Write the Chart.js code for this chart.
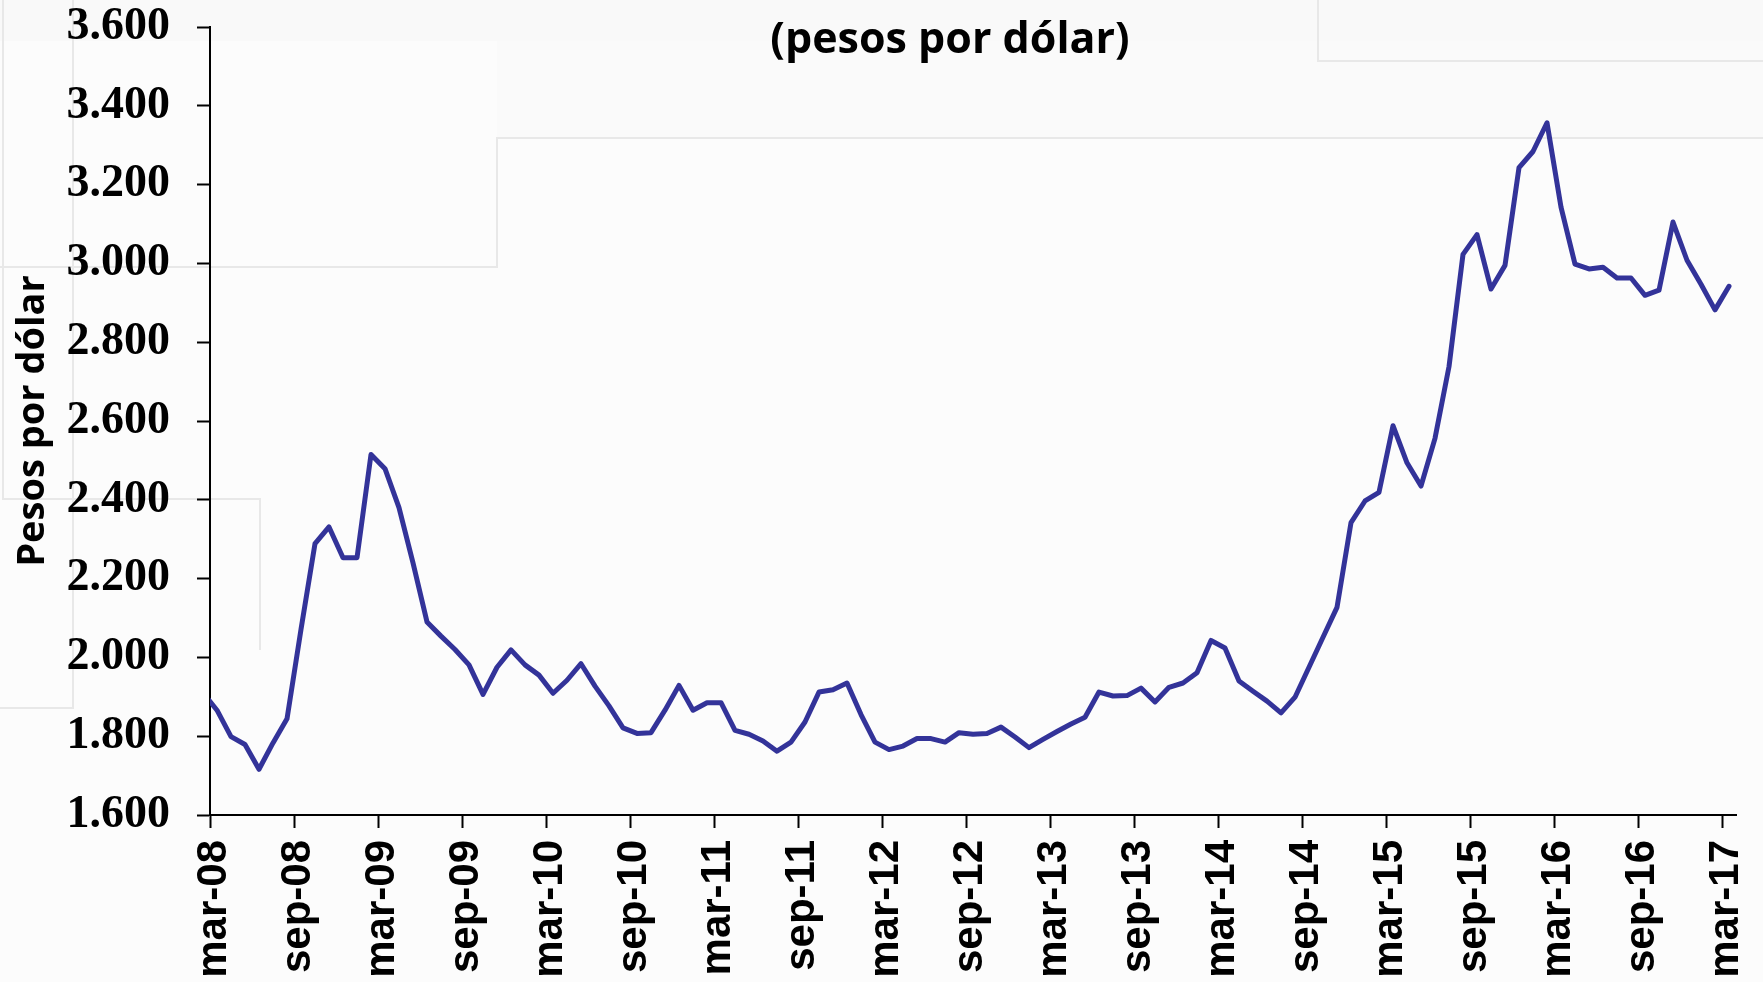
<!DOCTYPE html>
<html lang="es">
<head>
<meta charset="UTF-8">
<title>Tasa de cambio (pesos por dólar)</title>
<script src="https://cdn.jsdelivr.net/npm/chart.js"></script>
<style>
  html, body { margin: 0; padding: 0; background: #fcfcfc; }
  #wrap { width: 1763px; height: 982px; }
</style>
</head>
<body>
<div id="wrap"><canvas id="trm" width="1763" height="982"></canvas></div>
<script>
// serie mensual feb-08 .. mar-17
const abrev = ['ene', 'feb', 'mar', 'abr', 'may', 'jun', 'jul', 'ago', 'sep', 'oct', 'nov', 'dic'];
const meses = [];
for (let a = 8; a <= 17; a++) {
  for (let m = 0; m < 12; m++) {
    if ((a === 8 && m < 1) || (a === 17 && m > 2)) continue;
    meses.push(abrev[m] + '-' + String(a).padStart(2, '0'));
  }
}

const valores = [
  1910, 1866, 1799, 1779, 1716, 1783, 1844, 2071, 2289, 2331, 2253, 2253,
  2515, 2479, 2380, 2240, 2090, 2054, 2020, 1981, 1906, 1975, 2019, 1981,
  1955, 1909, 1942, 1984, 1927, 1877, 1821, 1807, 1809, 1866, 1929, 1866,
  1885, 1885, 1815, 1805, 1788, 1762, 1785, 1836, 1912, 1918, 1935, 1855,
  1785, 1766, 1775, 1794, 1794, 1785, 1809, 1805, 1807, 1823, 1798, 1771,
  1792, 1812, 1831, 1848, 1912, 1902, 1903, 1922, 1887, 1924, 1935, 1961,
  2043, 2024, 1940, 1914, 1889, 1859, 1899, 1975, 2051, 2127, 2342, 2397,
  2419, 2588, 2494, 2435, 2556, 2738, 3023, 3073, 2935, 2995, 3243, 3284,
  3357, 3143, 2998, 2986, 2990, 2963, 2963, 2919, 2932, 3105, 3008, 2947,
  2882, 2942
];

const etiquetasX = [
  'mar-08', 'sep-08', 'mar-09', 'sep-09', 'mar-10', 'sep-10', 'mar-11',
  'sep-11', 'mar-12', 'sep-12', 'mar-13', 'sep-13', 'mar-14', 'sep-14',
  'mar-15', 'sep-15', 'mar-16', 'sep-16', 'mar-17'
];
const marcasY = [1600, 1800, 2000, 2200, 2400, 2600, 2800, 3000, 3200, 3400, 3600];

// eje x en meses contados desde el inicio de mar-08; cada dato va a mitad de su mes
const inicioMes = (lbl) => meses.indexOf(lbl) - 1;
const puntos = meses.map((m, i) => ({ x: i - 0.5, y: valores[i] }));

const miles = (v) => String(v).replace(/\B(?=(\d{3})+(?!\d))/g, '.');

// fondo con los recuadros tenues de la plantilla
const fondo = {
  id: 'fondo',
  beforeDraw(chart) {
    const c = chart.ctx;
    c.save();
    c.fillStyle = '#fcfcfc';
    c.fillRect(0, 0, chart.width, chart.height);
    c.fillStyle = '#f9f9f9';
    c.fillRect(0, 0, chart.width, 41);
    c.fillStyle = '#fafafa';
    c.fillRect(497, 41, chart.width - 497, 97);
    c.strokeStyle = '#e8e8e8';
    c.lineWidth = 2;
    const trazos = [
      [[0, 267], [497, 267], [497, 138], [1763, 138]],
      [[1318, 0], [1318, 61], [1763, 61]],
      [[3, 0], [3, 499], [260, 499], [260, 650]],
      [[73, 0], [73, 708], [0, 708]]
    ];
    trazos.forEach(t => {
      c.beginPath();
      t.forEach(([x, y], k) => k ? c.lineTo(x, y) : c.moveTo(x, y));
      c.stroke();
    });
    c.restore();
  }
};

const titulo = {
  id: 'titulo',
  afterDraw(chart) {
    const c = chart.ctx;
    c.save();
    c.fillStyle = '#000';
    c.font = 'bold 43px "Open Sans"';
    c.textAlign = 'center';
    c.textBaseline = 'middle';
    c.fillText('(pesos por dólar)', 950, 41);
    c.restore();
  }
};

new Chart(document.getElementById('trm'), {
  type: 'line',
  data: {
    datasets: [{
      label: 'Pesos por dólar',
      data: puntos,
      borderColor: '#333399',
      borderWidth: 5,
      pointRadius: 0,
      tension: 0,
      fill: false,
      borderJoinStyle: 'round',
      borderCapStyle: 'round',
      clip: 0
    }]
  },
  options: {
    responsive: false,
    animation: false,
    layout: { padding: { top: 27, right: 27, left: 0, bottom: 0 } },
    plugins: { legend: { display: false }, tooltip: { enabled: false } },
    scales: {
      x: {
        type: 'linear',
        min: 0,
        max: 109,
        afterBuildTicks: s => { s.ticks = etiquetasX.map(l => ({ value: inicioMes(l) })); },
        afterFit: s => { s.height = 167; s.paddingLeft = 0; s.paddingRight = 0; },
        grid: { drawOnChartArea: false, tickLength: 13, tickColor: '#000', tickWidth: 2 },
        border: { color: '#000', width: 2 },
        ticks: {
          autoSkip: false,
          minRotation: 90,
          maxRotation: 90,
          padding: 12,
          labelOffset: 4,
          color: '#000',
          font: { family: '"Liberation Sans", Arial', weight: 'bold', size: 42 },
          callback: (v, i) => etiquetasX[i]
        }
      },
      y: {
        min: 1600,
        max: 3600,
        afterBuildTicks: s => { s.ticks = marcasY.map(v => ({ value: v })); },
        afterFit: s => { s.width = 210; s.paddingTop = 0; s.paddingBottom = 0; },
        grid: { drawOnChartArea: false, tickLength: 13, tickColor: '#000', tickWidth: 2 },
        border: { color: '#000', width: 2 },
        title: {
          display: true,
          text: 'Pesos por dólar',
          color: '#000',
          font: { family: '"Open Sans"', weight: 'bold', size: 38 },
          padding: { top: 10, bottom: 0 }
        },
        ticks: {
          padding: 27,
          color: '#000',
          font: { family: '"Liberation Serif"', weight: 'bold', size: 46 },
          callback: v => miles(v)
        }
      }
    }
  },
  plugins: [fondo, titulo]
});
</script>
</body>
</html>
